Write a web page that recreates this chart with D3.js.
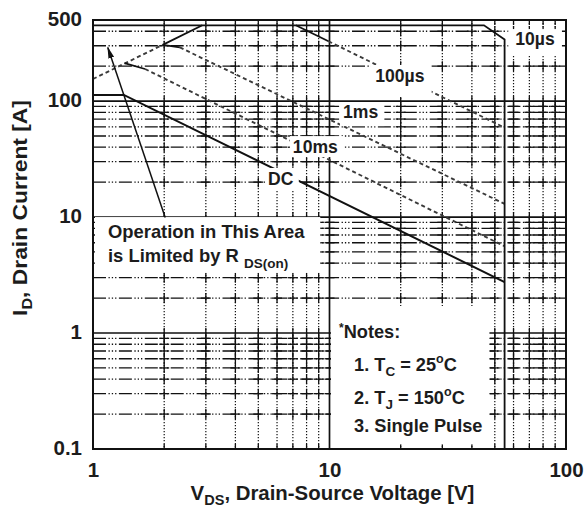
<!DOCTYPE html>
<html>
<head>
<meta charset="utf-8">
<script src="https://cdn.jsdelivr.net/npm/d3@7"></script>
<style>
  body { margin: 0; background: #fff; }
  svg { display: block; font-family: "Liberation Sans", Arial, sans-serif; font-weight: bold; }
</style>
</head>
<body>
<svg id="chart" width="584" height="509"></svg>
<script>
// ---- axis ticks and grid ----
const xTicks = [1, 10, 100];
const yTicks = [0.1, 1, 10, 100, 500];
const xGridMajor = [10];
const yGridMajor = [1, 10, 100];
const xGridMinor = [2, 3, 4, 5, 6, 7, 8, 9, 20, 30, 40, 50, 60, 70, 80, 90];
const yGridMinor = [0.2, 0.3, 0.4, 0.5, 0.6, 0.7, 0.8, 0.9,
                    2, 3, 4, 5, 6, 7, 8, 9,
                    20, 30, 40, 50, 60, 70, 80, 90,
                    200, 300, 400];

// ---- safe operating area boundaries: [V_DS (V), I_D (A)] ----
const rdsOnLimit   = [[1, 155], [1.97, 305]];                 // dashed R_DS(on) line
const pulseRise    = [[1.97, 305], [2.9, 450]];               // R_DS(on) up to pulsed current
const limit10us    = [[1, 450], [45, 450], [55, 340], [55, 0.1]];
const lead100us    = [[7.2, 450], [9.9, 328]];
const limit100us   = [[9.9, 328], [55, 59]];
const lead1ms      = [[1.97, 305], [2.33, 290]];
const limit1ms     = [[2.33, 290], [55, 13]];
const lead10ms     = [[1.36, 212], [1.66, 189]];
const limit10ms    = [[1.66, 189], [55, 5.6]];
const limitDC      = [[1, 113], [1.35, 113], [55, 2.75]];
const rdsArrow     = [[2.02, 9.9], [1.155, 290]];

const curveLabels  = ["10µs", "100µs", "1ms", "10ms", "DC"];

// ---- layout ----
const svg = d3.select("#chart");
const plot = { left: 93, right: 566, top: 20, bottom: 449 };
const x = d3.scaleLog().domain([1, 100]).range([plot.left, plot.right]);
const y = d3.scaleLog().domain([0.1, 500]).range([plot.bottom, plot.top]);
const ink = "#111";
const textInk = "#1c1c1c";

svg.append("rect").attr("width", 584).attr("height", 509).attr("fill", "#fff");

const defs = svg.append("defs");
defs.append("clipPath").attr("id", "plotClip")
  .append("rect")
  .attr("x", plot.left).attr("y", plot.top)
  .attr("width", plot.right - plot.left).attr("height", plot.bottom - plot.top);
defs.append("marker")
  .attr("id", "arrowHead")
  .attr("viewBox", "0 0 12 6")
  .attr("refX", 11).attr("refY", 3)
  .attr("markerWidth", 12).attr("markerHeight", 6)
  .attr("markerUnits", "userSpaceOnUse")
  .attr("orient", "auto")
  .append("path").attr("d", "M0,0 L12,3 L0,6 Z").attr("fill", ink);

// ---- grid ----
const grid = svg.append("g").attr("clip-path", "url(#plotClip)");

grid.selectAll("line.hminor").data(yGridMinor).join("line")
  .attr("class", "hminor")
  .attr("x1", plot.left).attr("x2", plot.right)
  .attr("y1", d => y(d)).attr("y2", d => y(d))
  .attr("stroke", ink).attr("stroke-width", 1.3)
  .attr("stroke-dasharray", "13,2.5,1.3,2,1.3,2,1.3,2.5");

grid.selectAll("line.vminor").data(xGridMinor).join("line")
  .attr("class", "vminor")
  .attr("x1", d => x(d)).attr("x2", d => x(d))
  .attr("y1", plot.top).attr("y2", plot.bottom)
  .attr("stroke", ink).attr("stroke-width", 1.2)
  .attr("stroke-dasharray", "1.3,1.7");

// solid crossings where minor verticals meet the horizontal lines
const hAll = yGridMinor.concat(yGridMajor, y.domain());
const vCross = [];
xGridMinor.forEach(vx => hAll.forEach(hy => vCross.push([vx, hy])));
grid.selectAll("line.vcross").data(vCross).join("line")
  .attr("class", "vcross")
  .attr("x1", d => x(d[0])).attr("x2", d => x(d[0]))
  .attr("y1", d => y(d[1]) - 5).attr("y2", d => y(d[1]) + 5)
  .attr("stroke", ink).attr("stroke-width", 1.3);

const vAll = xGridMinor.concat(xGridMajor);
const hCross = [];
vAll.forEach(vx => yGridMinor.forEach(hy => hCross.push([vx, hy])));
grid.selectAll("line.hcross").data(hCross).join("line")
  .attr("class", "hcross")
  .attr("x1", d => x(d[0]) - 5).attr("x2", d => x(d[0]) + 5)
  .attr("y1", d => y(d[1])).attr("y2", d => y(d[1]))
  .attr("stroke", ink).attr("stroke-width", 1.3);

grid.selectAll("line.hmajor").data(yGridMajor).join("line")
  .attr("class", "hmajor")
  .attr("x1", plot.left).attr("x2", plot.right)
  .attr("y1", d => y(d)).attr("y2", d => y(d))
  .attr("stroke", ink).attr("stroke-width", 1.7);

grid.selectAll("line.vmajor").data(xGridMajor).join("line")
  .attr("class", "vmajor")
  .attr("x1", d => x(d)).attr("x2", d => x(d))
  .attr("y1", plot.top).attr("y2", plot.bottom)
  .attr("stroke", ink).attr("stroke-width", 1.7);

// ---- SOA curves ----
const line = d3.line().x(d => x(d[0])).y(d => y(d[1]));
const curves = svg.append("g").attr("clip-path", "url(#plotClip)").attr("fill", "none");

const dashedSet = [rdsOnLimit, limit100us, limit1ms, limit10ms];
curves.selectAll("path.dashed").data(dashedSet).join("path")
  .attr("class", "dashed")
  .attr("d", line)
  .attr("stroke", "#3a3a3a").attr("stroke-width", 1.9)
  .attr("stroke-dasharray", "4,3");

const solidSet = [pulseRise, limit10us, lead100us, lead1ms, lead10ms];
curves.selectAll("path.solid").data(solidSet).join("path")
  .attr("class", "solid")
  .attr("d", line)
  .attr("stroke", ink).attr("stroke-width", 1.8)
  .attr("stroke-linejoin", "miter");

curves.append("path")
  .attr("d", line(limitDC))
  .attr("stroke", ink).attr("stroke-width", 2);

// ---- labels with white backgrounds ----
function boxedText(g, pad) {
  const b = g.node().getBBox();
  g.insert("rect", ":first-child")
    .attr("x", b.x - pad[0]).attr("y", b.y - pad[1])
    .attr("width", b.width + pad[0] + pad[2])
    .attr("height", b.height + pad[1] + pad[3])
    .attr("fill", "#fff");
}

const labelAnchors = [
  { v: 61,   i: 304,  pad: [7, 0, 7, 6] },
  { v: 15.6, i: 146,  pad: [5, 1, 7, 11] },
  { v: 11.4, i: 71.3, pad: [3, 0, 6, 4] },
  { v: 7.0,  i: 35.6, pad: [3, 1, 5, 0] },
  { v: 5.5,  i: 18.9, pad: [3, 1, 5, 1] }
];
curveLabels.forEach((txt, k) => {
  const a = labelAnchors[k];
  const g = svg.append("g");
  g.append("text")
    .attr("x", x(a.v)).attr("y", y(a.i))
    .attr("font-size", 17.6).attr("fill", textInk)
    .text(txt);
  boxedText(g, a.pad);
});

// R_DS(on) annotation
const opG = svg.append("g");
const opText = opG.append("text").attr("font-size", 18.4).attr("fill", textInk);
opText.append("tspan").attr("x", x(1.157)).attr("y", y(6.59)).text("Operation in This Area");
const op2 = opText.append("tspan").attr("x", x(1.157)).attr("y", y(4.1));
op2.append("tspan").text("is Limited by R ");
op2.append("tspan").attr("font-size", 13.5).attr("dy", 6).text("DS(on)");
boxedText(opG, [13, 4, 15, 2]);

svg.append("path")
  .attr("d", line(rdsArrow))
  .attr("stroke", ink).attr("stroke-width", 1.5)
  .attr("fill", "none")
  .attr("marker-end", "url(#arrowHead)");

// notes block
const notesG = svg.append("g");
const notes = notesG.append("text").attr("font-size", 18.2).attr("fill", textInk);
const nx = x(10.97), nx2 = x(12.7);
const n0 = notes.append("tspan").attr("x", nx).attr("y", y(0.906));
n0.append("tspan").attr("font-size", 12).attr("dy", -6).text("*");
n0.append("tspan").attr("dy", 6).text("Notes:");
const n1 = notes.append("tspan").attr("x", nx2).attr("y", y(0.466));
n1.append("tspan").text("1. T");
n1.append("tspan").attr("font-size", 13.5).attr("dy", 5).text("C");
n1.append("tspan").attr("dy", -5).text(" = 25");
n1.append("tspan").attr("font-size", 12.5).attr("dy", -8).text("o");
n1.append("tspan").attr("dy", 8).text("C");
const n2 = notes.append("tspan").attr("x", nx2).attr("y", y(0.242));
n2.append("tspan").text("2. T");
n2.append("tspan").attr("font-size", 13.5).attr("dy", 5).text("J");
n2.append("tspan").attr("dy", -5).text(" = 150");
n2.append("tspan").attr("font-size", 12.5).attr("dy", -8).text("o");
n2.append("tspan").attr("dy", 8).text("C");
notes.append("tspan").attr("x", nx2).attr("y", y(0.139)).text("3. Single Pulse");
boxedText(notesG, [8, 15, 7, 8]);

// ---- frame ----
svg.append("rect")
  .attr("x", plot.left).attr("y", plot.top)
  .attr("width", plot.right - plot.left).attr("height", plot.bottom - plot.top)
  .attr("fill", "none").attr("stroke", ink).attr("stroke-width", 2);

// ---- axes ----
const xAxis = d3.axisBottom(x).tickValues(xTicks).tickFormat(d3.format("")).tickSize(0).tickPadding(0);
const xg = svg.append("g").attr("transform", `translate(0,${plot.bottom})`).call(xAxis);
xg.select(".domain").remove();
xg.selectAll("text").attr("font-size", 20.5).attr("fill", textInk)
  .attr("font-family", "Liberation Sans, Arial, sans-serif")
  .attr("dy", null).attr("y", 28);

const yAxis = d3.axisLeft(y).tickValues(yTicks).tickFormat(d3.format("")).tickSize(0).tickPadding(0);
const yg = svg.append("g").attr("transform", `translate(${plot.left},0)`).call(yAxis);
yg.select(".domain").remove();
yg.selectAll("text").attr("font-size", 20.5).attr("fill", textInk)
  .attr("font-family", "Liberation Sans, Arial, sans-serif")
  .attr("x", -11).attr("dy", null).attr("y", 5);

// axis titles
const xt = svg.append("text")
  .attr("x", (plot.left + plot.right) / 2 + 3).attr("y", 500)
  .attr("text-anchor", "middle").attr("font-size", 20.4).attr("fill", textInk);
xt.append("tspan").text("V");
xt.append("tspan").attr("font-size", 14.5).attr("dy", 5).text("DS");
xt.append("tspan").attr("dy", -5).text(", Drain-Source Voltage [V]");

const yt = svg.append("text")
  .attr("transform", "translate(27,208) rotate(-90) scale(1.12,1)")
  .attr("text-anchor", "middle").attr("font-size", 20.4).attr("fill", textInk);
yt.append("tspan").text("I");
yt.append("tspan").attr("font-size", 14.5).attr("dy", 5).text("D");
yt.append("tspan").attr("dy", -5).text(", Drain Current [A]");
</script>
</body>
</html>
